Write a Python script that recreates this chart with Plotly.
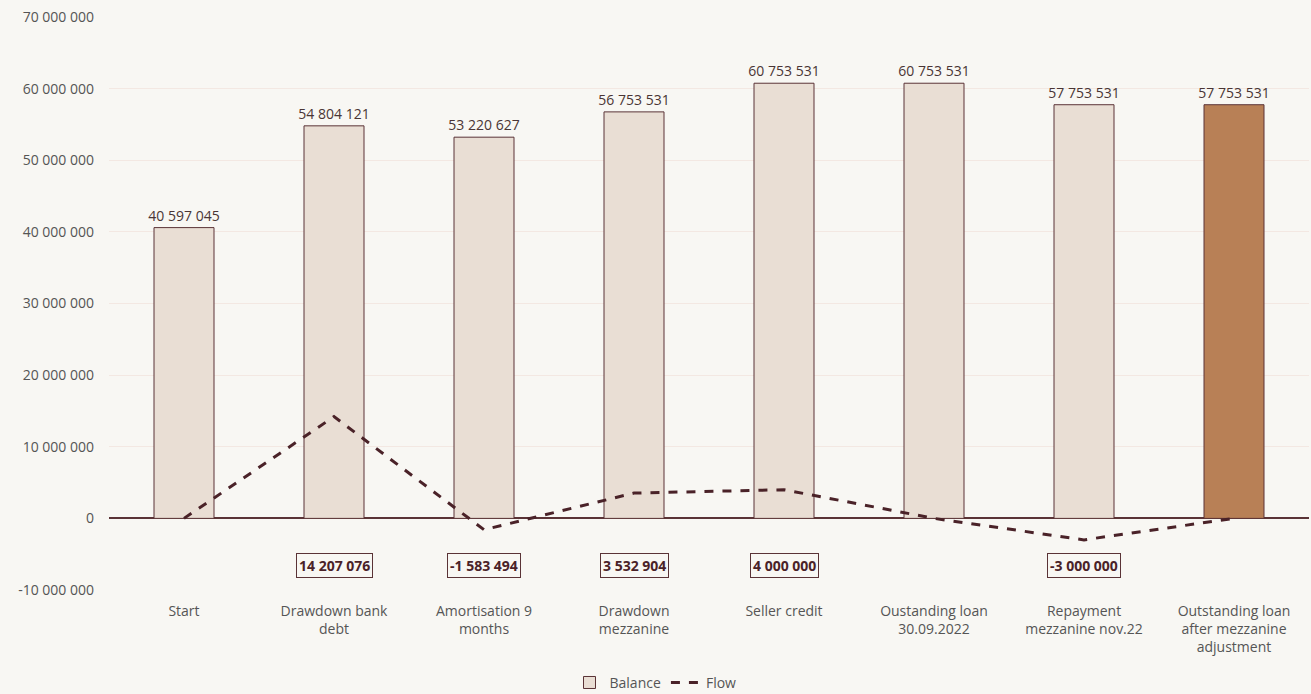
import plotly.graph_objects as go

categories = ["Start", "Drawdown bank<br>debt", "Amortisation 9<br>months", "Drawdown<br>mezzanine",
              "Seller credit", "Oustanding loan<br>30.09.2022", "Repayment<br>mezzanine nov.22",
              "Outstanding loan<br>after mezzanine<br>adjustment"]
balance = [40597045, 54804121, 53220627, 56753531, 60753531, 60753531, 57753531, 57753531]
flow = [0, 14207076, -1583494, 3532904, 4000000, 0, -3000000, 0]
tick_vals = [-10000000, 0, 10000000, 20000000, 30000000, 40000000, 50000000, 60000000, 70000000]
tick_text = ["-10 000 000", "0", "10 000 000", "20 000 000", "30 000 000", "40 000 000",
             "50 000 000", "60 000 000", "70 000 000"]

def fmt(v):
    s = f"{abs(v):,}".replace(",", " ")
    return ("-" if v < 0 else "") + s

bar_colors = ["#e9ded4"] * (len(balance) - 1) + ["#b88056"]
FONT = "Open Sans"
fig = go.Figure()
fig.add_trace(go.Bar(
    x=categories, y=balance, name="Balance",
    marker=dict(color=bar_colors, line=dict(color="#5a3336", width=1)),
    width=0.4,
    text=[fmt(v) for v in balance], textposition="outside", constraintext="none",
    textfont=dict(color="#4a3535", size=14, family=FONT),
    cliponaxis=False,
))
fig.add_trace(go.Scatter(
    x=categories, y=flow, name="Flow", mode="lines",
    line=dict(color="#4a2228", width=3, dash="dash"),
))

for c, f in zip(categories, flow):
    if f != 0:
        fig.add_annotation(x=c, y=-6600000, text="<b>" + fmt(f) + "</b>", showarrow=False,
                           font=dict(color="#4a2228", size=14, family=FONT),
                           bordercolor="#5a3336", borderwidth=1, borderpad=2, bgcolor="#f8f7f3")

fig.update_layout(
    width=1311, height=694,
    paper_bgcolor="#f8f7f3", plot_bgcolor="#f8f7f3",
    margin=dict(l=109, r=2, t=17, b=104),
    font=dict(family=FONT, size=14, color="#555"),
    showlegend=True,
    legend=dict(orientation="h", x=0.5, xanchor="center", xref="container",
                y=0.016, yanchor="middle", yref="container",
                font=dict(size=14, color="#555"), bgcolor="rgba(0,0,0,0)"),
    xaxis=dict(showgrid=False, tickfont=dict(size=14, color="#555"), ticks="", showline=False,
               automargin=False, ticklabelstandoff=11),
    yaxis=dict(range=[-10000000, 70000000], tickvals=tick_vals, ticktext=tick_text,
               gridcolor="#f3e8e2", gridwidth=1, zeroline=True, zerolinecolor="#5a3336",
               zerolinewidth=1.5, tickfont=dict(size=14, color="#555"), ticklabelstandoff=14,
               automargin=False),
)
fig.write_html("out.html", config={"displayModeBar": False})
with open("out.html", "r", encoding="utf-8") as fh:
    html = fh.read()
html = html.replace("<head>", "<head><style>html,body{margin:0;padding:0;overflow:hidden;}</style>", 1)
with open("out.html", "w", encoding="utf-8") as fh:
    fh.write(html)
